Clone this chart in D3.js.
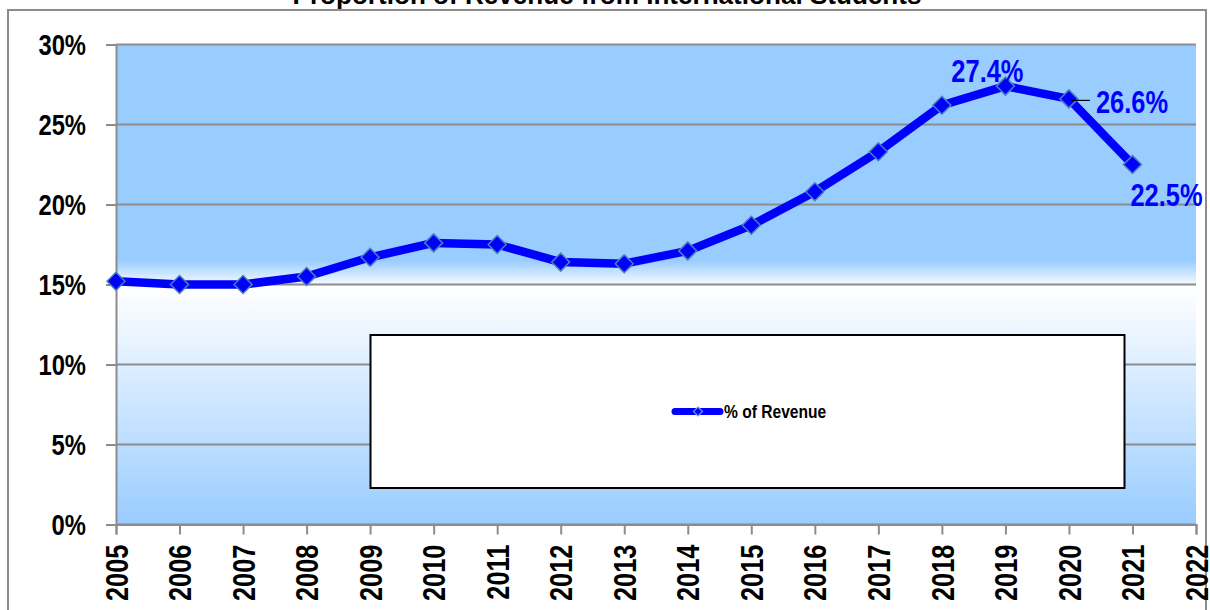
<!DOCTYPE html>
<html>
<head>
<meta charset="utf-8">
<script src="https://cdn.jsdelivr.net/npm/d3@7"></script>
<style>
  html, body { margin: 0; padding: 0; background: #fff; }
  svg { display: block; }
  .narrow { font-family: "Liberation Sans Narrow", "Arial Narrow", "Liberation Sans", Arial, sans-serif; font-weight: bold; }
</style>
</head>
<body>
<svg id="chart" width="1210" height="610"></svg>
<script>
const years = [2005, 2006, 2007, 2008, 2009, 2010, 2011, 2012, 2013, 2014, 2015, 2016, 2017, 2018, 2019, 2020, 2021];
const revenueShare = [15.2, 15.0, 15.0, 15.5, 16.7, 17.6, 17.5, 16.4, 16.3, 17.1, 18.7, 20.8, 23.3, 26.2, 27.4, 26.6, 22.5];
const yTicks = [0, 5, 10, 15, 20, 25, 30];
const xTicks = d3.range(2005, 2023);
const labelledYears = [2019, 2020, 2021];
const title = "Proportion of Revenue from International Students";
const seriesName = "% of Revenue";

const settings = {
  left: 116, right: 1196, top: 44.5, bottom: 524.5,
  lineColor: "#0000ff",
  markerStroke: "#4a7fbf",
  gridColor: "#8c8c8c",
  bgBlue: "#99ccff",
  narrowFactor: 0.82
};

const svg = d3.select("#chart");

const x = d3.scaleLinear().domain([2005, 2022]).range([settings.left, settings.right]);
const y = d3.scaleLinear().domain([0, 30]).range([settings.bottom, settings.top]);

// no narrow font installed, so squeeze the regular bold one
function squeeze(sel) {
  sel.each(function() {
    const w = this.getComputedTextLength();
    d3.select(this)
      .attr("textLength", w * settings.narrowFactor)
      .attr("lengthAdjust", "spacingAndGlyphs");
  });
}

// square turned 45 degrees, like the spreadsheet marker
const diamond = r => `M0,${-r}L${r},0L0,${r}L${-r},0Z`;

// outer chart border (bottom edge falls outside the picture)
svg.append("rect")
  .attr("x", 8).attr("y", 10)
  .attr("width", 1198).attr("height", 620)
  .attr("fill", "#fff")
  .attr("stroke", "#8c8c8c")
  .attr("stroke-width", 2);

svg.append("text")
  .attr("x", 607).attr("y", 4)
  .attr("text-anchor", "middle")
  .attr("font-family", "Liberation Sans, Arial, sans-serif")
  .attr("font-weight", "bold")
  .attr("font-size", 26)
  .attr("textLength", 629)
  .attr("lengthAdjust", "spacingAndGlyphs")
  .text(title);

// plot background gradient
const defs = svg.append("defs");
const bg = defs.append("linearGradient")
  .attr("id", "plot-bg")
  .attr("x1", 0).attr("y1", 0).attr("x2", 0).attr("y2", 1);
bg.append("stop").attr("offset", "0%").attr("stop-color", settings.bgBlue);
bg.append("stop").attr("offset", "45%").attr("stop-color", settings.bgBlue);
bg.append("stop").attr("offset", "50.5%").attr("stop-color", "#ffffff");
bg.append("stop").attr("offset", "100%").attr("stop-color", settings.bgBlue);

svg.append("rect")
  .attr("x", settings.left).attr("y", settings.top)
  .attr("width", settings.right - settings.left)
  .attr("height", settings.bottom - settings.top)
  .attr("fill", "url(#plot-bg)");

// gridlines
svg.append("g")
  .selectAll("line")
  .data(yTicks)
  .join("line")
  .attr("x1", settings.left).attr("x2", settings.right)
  .attr("y1", d => y(d)).attr("y2", d => y(d))
  .attr("stroke", settings.gridColor)
  .attr("stroke-width", 2);

// y axis
const yAxis = svg.append("g")
  .attr("transform", `translate(${settings.left},0)`)
  .call(d3.axisLeft(y).tickValues(yTicks).tickSize(10).tickPadding(20).tickFormat(d => d + "%"));
yAxis.select(".domain").attr("stroke", settings.gridColor).attr("stroke-width", 2);
yAxis.selectAll(".tick line").attr("stroke", settings.gridColor).attr("stroke-width", 2);
yAxis.selectAll(".tick text")
  .attr("class", "narrow")
  .attr("font-size", 29)
  .attr("fill", "#000")
  .attr("dy", "0.36em")
  .call(squeeze);

// x axis
const xAxis = svg.append("g")
  .attr("transform", `translate(0,${settings.bottom})`)
  .call(d3.axisBottom(x).tickValues(xTicks).tickSize(10).tickFormat(d3.format("d")));
xAxis.select(".domain").attr("stroke", settings.gridColor).attr("stroke-width", 2);
xAxis.selectAll(".tick line").attr("stroke", settings.gridColor).attr("stroke-width", 2);
xAxis.selectAll(".tick text")
  .attr("class", "narrow")
  .attr("font-size", 31)
  .attr("fill", "#000")
  .attr("transform", "rotate(-90)")
  .attr("x", -20).attr("y", 0)
  .attr("dy", "0.36em")
  .attr("text-anchor", "end")
  .call(squeeze);

// legend box
const legend = svg.append("g");
legend.append("rect")
  .attr("x", 370.5).attr("y", 335)
  .attr("width", 754).attr("height", 153)
  .attr("fill", "#fff")
  .attr("stroke", "#000")
  .attr("stroke-width", 2);
legend.append("line")
  .attr("x1", 675).attr("x2", 720)
  .attr("y1", 411.5).attr("y2", 411.5)
  .attr("stroke", settings.lineColor)
  .attr("stroke-width", 7)
  .attr("stroke-linecap", "round");
legend.append("path")
  .attr("d", diamond(4.5))
  .attr("transform", "translate(698,411.5)")
  .attr("fill", settings.lineColor)
  .attr("stroke", "#6a9fe0")
  .attr("stroke-width", 1.2);
legend.append("text")
  .attr("class", "narrow")
  .attr("x", 724).attr("y", 411.5)
  .attr("dy", "0.36em")
  .attr("font-size", 19)
  .attr("fill", "#000")
  .text(seriesName)
  .call(squeeze);

// series
const points = years.map((yr, i) => ({ year: yr, value: revenueShare[i] }));

const line = d3.line()
  .x(d => x(d.year))
  .y(d => y(d.value));

svg.append("path")
  .datum(points)
  .attr("d", line)
  .attr("fill", "none")
  .attr("stroke", settings.lineColor)
  .attr("stroke-width", 8.5)
  .attr("stroke-linejoin", "round")
  .attr("stroke-linecap", "round");

svg.append("g")
  .selectAll("path")
  .data(points)
  .join("path")
  .attr("d", diamond(9))
  .attr("transform", d => `translate(${x(d.year)},${y(d.value)})`)
  .attr("fill", settings.lineColor)
  .attr("stroke", settings.markerStroke)
  .attr("stroke-width", 1.5);

// data labels for last three years
const labelOffsets = {
  2019: { dx: -18, dy: -15, anchor: "middle" },
  2020: { dx: 27, dy: 3, anchor: "start" },
  2021: { dx: 34, dy: 30, anchor: "middle" }
};
const labelled = points.filter(d => labelledYears.includes(d.year));

// leader line for 2020 label
const p2020 = points.find(d => d.year === 2020);
svg.append("line")
  .attr("x1", x(2020) + 2).attr("x2", x(2020) + 21)
  .attr("y1", y(p2020.value) + 1.5).attr("y2", y(p2020.value) + 1.5)
  .attr("stroke", "#000")
  .attr("stroke-width", 1.2);

svg.append("g")
  .selectAll("text")
  .data(labelled)
  .join("text")
  .attr("class", "narrow")
  .attr("x", d => x(d.year) + labelOffsets[d.year].dx)
  .attr("y", d => y(d.value) + labelOffsets[d.year].dy)
  .attr("dy", "0.36em")
  .attr("text-anchor", d => labelOffsets[d.year].anchor)
  .attr("font-size", 31)
  .attr("fill", settings.lineColor)
  .text(d => d.value.toFixed(1) + "%")
  .call(squeeze);
</script>
</body>
</html>
